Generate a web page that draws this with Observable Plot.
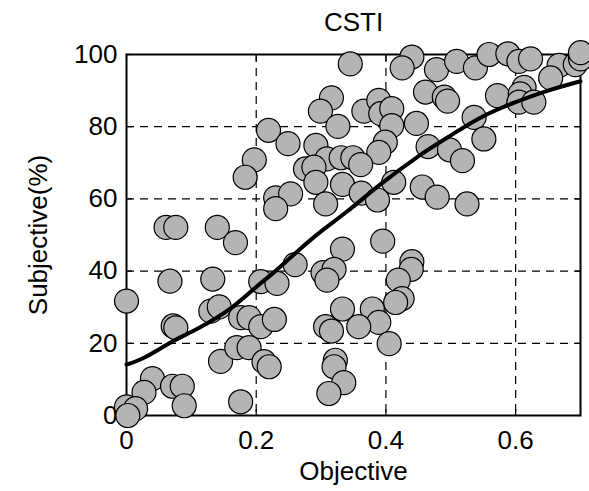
<!DOCTYPE html>
<html>
<head>
<meta charset="utf-8">
<script src="https://cdn.jsdelivr.net/npm/d3@7"></script>
<script src="https://cdn.jsdelivr.net/npm/@observablehq/plot@0.6"></script>
<style>
  html, body { margin: 0; padding: 0; background: #fff; }
  svg { font-family: "Liberation Sans", Arial, sans-serif; }
</style>
</head>
<body>
<div id="chart"></div>
<script>
const title = "CSTI";
const xLabel = "Objective";
const yLabel = "Subjective(%)";
const xTicks = [0, 0.2, 0.4, 0.6];
const yTicks = [0, 20, 40, 60, 80, 100];

const objective = [
  0.219, 0.197, 0.183, 0.061, 0.076, 0.140, 0.168, 0.067, 0.133, 0.207,
  0.000, 0.130, 0.143, 0.072, 0.076, 0.176, 0.189, 0.207, 0.145, 0.170,
  0.189, 0.212, 0.220, 0.040, 0.027, 0.071, 0.086, 0.089, 0.176, 0.000,
  0.014, 0.002,
  0.345, 0.440, 0.425, 0.316, 0.299, 0.326, 0.366, 0.389, 0.392, 0.409,
  0.409, 0.447, 0.249, 0.292, 0.399, 0.389, 0.309, 0.331, 0.349, 0.361,
  0.276, 0.289, 0.292, 0.333, 0.412, 0.456, 0.362, 0.387, 0.307, 0.230,
  0.253, 0.230, 0.395,
  0.478, 0.509, 0.538, 0.559, 0.588, 0.605, 0.623, 0.667, 0.654, 0.692,
  0.700, 0.700, 0.461, 0.490, 0.495, 0.572, 0.613, 0.607, 0.605, 0.628,
  0.536, 0.551, 0.465, 0.498, 0.518, 0.479, 0.525,
  0.260, 0.333, 0.303, 0.320, 0.309, 0.232, 0.440, 0.439, 0.419, 0.425,
  0.415, 0.333, 0.379, 0.389, 0.358, 0.307, 0.316, 0.228, 0.405, 0.322,
  0.320, 0.335, 0.312
];
const subjective = [
  79.0, 70.8, 66.0, 52.1, 52.1, 52.1, 47.9, 37.2, 37.8, 37.1,
  31.7, 28.9, 30.1, 24.8, 24.3, 27.1, 27.1, 24.6, 15.0, 18.8,
  18.8, 14.9, 13.5, 10.2, 6.4, 8.1, 8.1, 2.7, 3.8, 2.4,
  1.9, 0.0,
  97.4, 99.3, 96.3, 88.0, 84.3, 80.1, 84.3, 87.3, 83.6, 85.0,
  80.3, 80.9, 75.3, 74.8, 75.7, 72.9, 71.1, 71.4, 71.4, 69.5,
  68.3, 68.8, 64.6, 64.0, 64.6, 63.3, 61.6, 59.7, 58.6, 60.3,
  61.4, 57.3, 48.3,
  95.8, 98.1, 96.3, 100.0, 100.2, 98.1, 98.8, 97.0, 93.5, 97.2,
  98.8, 100.5, 89.6, 88.2, 87.1, 88.6, 90.9, 89.1, 86.8, 86.8,
  82.6, 76.6, 74.5, 73.6, 70.6, 60.5, 58.6,
  41.8, 46.1, 39.6, 40.5, 37.5, 36.6, 42.6, 40.5, 37.5, 32.4,
  31.3, 29.5, 29.5, 25.8, 24.6, 24.6, 23.4, 26.6, 19.9, 15.3,
  13.5, 9.1, 6.1
];

const fitX = [0, 0.03, 0.07, 0.11, 0.16, 0.20, 0.225, 0.26, 0.30, 0.34, 0.39, 0.45, 0.50, 0.55, 0.60, 0.65, 0.70];
const fitY = [14.1, 16.3, 20.4, 24.1, 29.6, 35.6, 39.3, 44.9, 51.0, 56.5, 63.8, 71.8, 77.6, 82.9, 86.8, 90.0, 92.6];

const points = objective.map((x, i) => ({x, y: subjective[i]}));
const fit = fitX.map((x, i) => ({x, y: fitY[i]}));

const fs = 26;
const fmtX = d => d === 0 ? "0" : d3.format(".1f")(d);
const gridStyle = {stroke: "black", strokeOpacity: 1, strokeWidth: 1.2, strokeDasharray: "8,6"};
const chart = Plot.plot({
  width: 589,
  height: 491,
  marginLeft: 126,
  marginRight: 9,
  marginTop: 54,
  marginBottom: 76,
  style: {fontFamily: '"Liberation Sans", Arial, sans-serif', background: "white", color: "black"},
  x: {domain: [0, 0.7], ticks: xTicks, tickFormat: fmtX},
  y: {domain: [0, 100], ticks: yTicks},
  marks: [
    Plot.gridX(xTicks.filter(d => d > 0), gridStyle),
    Plot.gridY(yTicks.filter(d => d > 0 && d < 100), gridStyle),
    Plot.axisX({anchor: "bottom", ticks: xTicks, tickSize: -6, tickFormat: () => "", label: null, strokeWidth: 1.2}),
    Plot.axisX({anchor: "top", ticks: xTicks, tickSize: -6, tickFormat: () => "", label: null, strokeWidth: 1.2}),
    Plot.axisY({anchor: "left", ticks: yTicks, tickSize: -6, tickFormat: () => "", label: null, strokeWidth: 1.2}),
    Plot.axisY({anchor: "right", ticks: yTicks, tickSize: -6, tickFormat: () => "", label: null, strokeWidth: 1.2}),
    Plot.frame({stroke: "black", strokeWidth: 2}),
    Plot.axisX({anchor: "bottom", ticks: xTicks, tickSize: 0, tickPadding: 15, fontSize: fs, label: null, tickFormat: fmtX}),
    Plot.axisY({anchor: "left", ticks: yTicks, tickSize: 0, tickPadding: 9, fontSize: fs, label: null}),
    Plot.dot(points, {x: "x", y: "y", r: 12, fill: "#b4b4b4", stroke: "black", strokeWidth: 1.2}),
    Plot.line(fit, {x: "x", y: "y", stroke: "black", strokeWidth: 4, curve: "natural"}),
    Plot.text([title], {frameAnchor: "top", dy: -32, lineAnchor: "middle", textAnchor: "middle", fontSize: fs, fill: "black"}),
    Plot.text([xLabel], {frameAnchor: "bottom", dy: 56, lineAnchor: "middle", textAnchor: "middle", fontSize: fs, fill: "black"}),
    Plot.text([yLabel], {frameAnchor: "left", dx: -88, rotate: -90, lineAnchor: "middle", textAnchor: "middle", fontSize: fs, fill: "black"})
  ]
});
document.getElementById("chart").appendChild(chart);
</script>
</body>
</html>
